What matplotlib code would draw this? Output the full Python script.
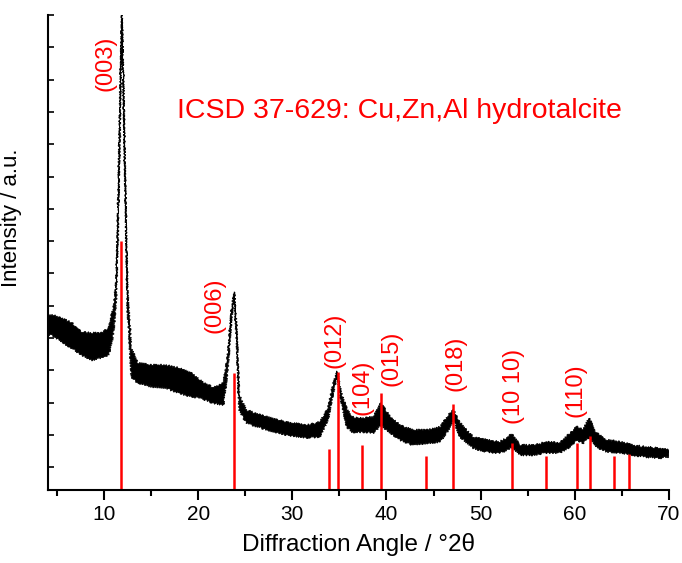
import numpy as np
import matplotlib
matplotlib.use('Agg')
import matplotlib.pyplot as plt

plt.rcParams['font.family'] = ['Liberation Sans', 'DejaVu Sans']

# measured pattern, read as upper / lower edge of the noisy trace
angle = [4.06, 4.5, 5.5, 6.6, 7.6, 8.7, 9.7, 10.5, 11.0, 11.3, 11.5, 11.7, 11.9,
         12.1, 12.3, 12.5, 12.9, 13.6, 15.1, 16.5, 17.9, 19.3, 20.2, 21.6, 22.7,
         23.2, 23.55, 23.83, 24.1, 24.36, 25.1, 27.3, 29.4, 31.5, 32.9, 33.8,
         34.3, 34.77, 35.2, 35.8, 36.5, 37.4, 38.6, 39.4, 40.4, 41.4, 42.8, 44.3,
         45.7, 46.6, 47.1, 47.8, 49.2, 50.6, 52.0, 52.9, 53.3, 54.2, 55.6, 57.0,
         58.4, 59.5, 60.2, 60.9, 61.5, 62.3, 63.4, 64.8, 66.2, 67.6, 69.0, 70.0]
upper = [542, 542, 532, 517, 489, 486, 486, 501, 563, 650, 898, 1207, 1480,
         1207, 898, 619, 439, 393, 387, 387, 378, 362, 340, 316, 331,
         433, 563, 613, 495, 294, 248, 226, 210, 201, 210, 254,
         325, 368, 300, 248, 223, 223, 226, 269, 226, 201, 186, 186,
         195, 232, 248, 207, 164, 155, 149, 164, 173, 139, 139, 149,
         145, 176, 198, 186, 223, 176, 155, 149, 139, 133, 130, 124]
lower = [480, 480, 458, 439, 418, 402, 409, 418, 480, 588, 805, 1114, 1455,
         1176, 851, 557, 350, 331, 319, 316, 300, 288, 285, 269, 263,
         387, 526, 600, 449, 248, 207, 186, 170, 161, 164, 217,
         294, 356, 272, 195, 176, 180, 176, 201, 176, 155, 139, 145,
         149, 186, 217, 164, 130, 118, 115, 124, 133, 108, 108, 115,
         115, 133, 155, 145, 164, 133, 118, 115, 108, 102, 99, 102]

# ICSD 37-629 reference reflections
ref_pos = [11.8, 23.8, 33.9, 34.8, 37.4, 39.4, 44.2, 47.1, 53.3, 56.9, 60.2, 61.6, 64.2, 65.8]
ref_int = [771, 363, 126, 366, 139, 299, 105, 265, 146, 105, 146, 168, 105, 112]

hkl = ['(003)', '(006)', '(012)', '(104)', '(015)', '(018)', '(10 10)', '(110)']
hkl_x = [10.21, 21.78, 34.52, 37.45, 40.5, 47.37, 53.5, 60.1]
hkl_y = [1320, 573, 464, 319, 408, 393, 319, 310]

fig = plt.figure(figsize=(6.82, 5.63), dpi=100)
ax = fig.add_axes([0.0704, 0.1297, 0.9106, 0.8437])

# noisy trace drawn as its envelope; sketch gives the ragged counting-noise edge
band, = ax.fill(angle + angle[::-1], upper + lower[::-1], color='black', lw=0.6)
band.set_sketch_params(1.0, 2.0, 2.0)
ax.vlines(ref_pos, 0, ref_int, color='#ff0000', lw=1.8)

for lab, x, y in zip(hkl, hkl_x, hkl_y):
    ax.text(x, y, lab, rotation=90, color='#ff0000', fontsize=17,
            ha='center', va='center')
ax.text(41.37, 1151, 'ICSD 37-629: Cu,Zn,Al hydrotalcite', color='#ff0000',
        fontsize=20.5, ha='center', va='baseline')

ax.set_xlim(4.06, 70)
ax.set_ylim(0, 1470)
ax.set_xticks([10, 20, 30, 40, 50, 60, 70])
ax.set_xticks([5, 15, 25, 35, 45, 55, 65], minor=True)
ax.set_yticks(np.arange(70, 1471, 100))
ax.set_yticklabels([])
ax.tick_params(axis='x', which='major', direction='out', length=7, width=1.5,
               labelsize=15, pad=4)
ax.tick_params(axis='x', which='minor', direction='out', length=4, width=1.5)
ax.tick_params(axis='y', direction='in', length=4, width=1.2)
for s in ('top', 'right'):
    ax.spines[s].set_visible(False)
for s in ('left', 'bottom'):
    ax.spines[s].set_linewidth(1.5)

ax.set_xlabel('Diffraction Angle / °2θ', fontsize=17.5, labelpad=6)
ax.set_ylabel('Intensity / a.u.', fontsize=16)
ax.yaxis.set_label_coords(-0.042, 0.573)

fig.savefig('out.png', dpi=100)
